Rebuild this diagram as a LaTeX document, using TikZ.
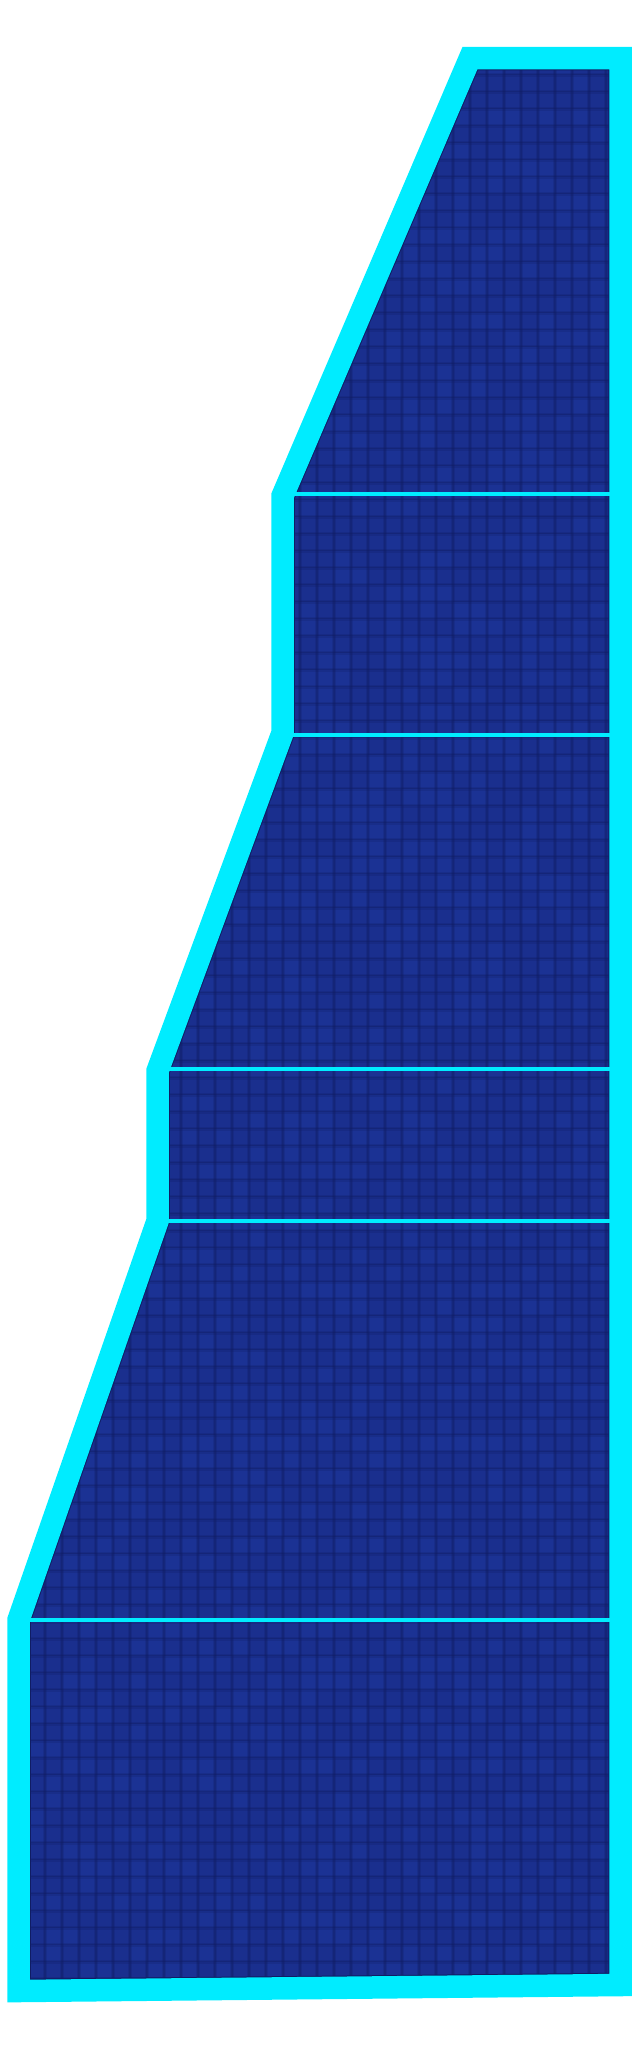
\documentclass[tikz,border=0pt]{standalone}
\begin{document}
\begin{tikzpicture}[x=1pt,y=-1pt,
  outline/.style={draw=cyanline,line width=22.5pt,line join=miter,miter limit=20},
  innerrim/.style={draw=gridline,line width=24.5pt,line join=miter,miter limit=20},
  divider/.style={draw=cyanline,line width=4pt},
  cellhi/.style={fill=panelhi,opacity=0.3},
  gridblur/.style={draw=gridline,line width=4pt,opacity=0.22},
  gridcore/.style={draw=gridline,line width=1.2pt,opacity=0.35}]
\definecolor{cyanline}{RGB}{0,236,255}
\definecolor{panel}{RGB}{26,47,142}
\definecolor{panelhi}{RGB}{32,58,162}
\definecolor{gridline}{RGB}{16,28,100}
\useasboundingbox (0,0) rectangle (638,2048);
\coordinate (A) at (470,58);
\coordinate (B) at (620.5,58);
\coordinate (C) at (620.5,1985);
\coordinate (D) at (18.5,1991);
\coordinate (E) at (18.5,1620);
\coordinate (F) at (157.5,1221);
\coordinate (G) at (157.5,1071);
\coordinate (H) at (282.5,733);
\coordinate (I) at (282.5,496);
% panel fill with grid texture
\begin{scope}
  \clip (A) -- (B) -- (C) -- (D) -- (E) -- (F) -- (G) -- (H) -- (I) -- cycle;
  \fill[panel] (0,0) rectangle (638,2048);
  \pgfmathsetseed{7}
  \foreach \i in {0,...,37} {
    \foreach \j in {3,...,117} {
      \pgfmathsetmacro\r{rnd}
      \ifdim\r pt<0.35pt
        \fill[cellhi] ({11+17*(\i-1)},{6.7+17*\j}) rectangle ++(17,17);
      \fi
    }
  }
  \foreach \k in {0,...,37} {
    \draw[gridblur] ({11+17*\k},0) -- ({11+17*\k},2048);
    \draw[gridcore] ({11+17*\k},0) -- ({11+17*\k},2048);
  }
  \foreach \k in {0,...,120} {
    \draw[gridblur] (0,{6.7+17*\k}) -- (638,{6.7+17*\k});
    \draw[gridcore] (0,{6.7+17*\k}) -- (638,{6.7+17*\k});
  }
  % thin dark inner rim
  \draw[innerrim] (A) -- (B) -- (C) -- (D) -- (E) -- (F) -- (G) -- (H) -- (I) -- cycle;
\end{scope}
% dividers
\coordinate (R1) at (620.5,494);
\coordinate (R2) at (620.5,735);
\coordinate (R3) at (620.5,1069);
\coordinate (R4) at (620.5,1221);
\coordinate (R5) at (620.5,1620);
\draw[divider] (282.5,494) -- (R1);
\draw[divider] (282.5,735) -- (R2);
\draw[divider] (157.5,1069) -- (R3);
\draw[divider] (157.5,1221) -- (R4);
\draw[divider] (18.5,1620) -- (R5);
% outline
\draw[outline] (A) -- (B) -- (C) -- (D) -- (E) -- (F) -- (G) -- (H) -- (I) -- cycle;
\end{tikzpicture}
\end{document}
